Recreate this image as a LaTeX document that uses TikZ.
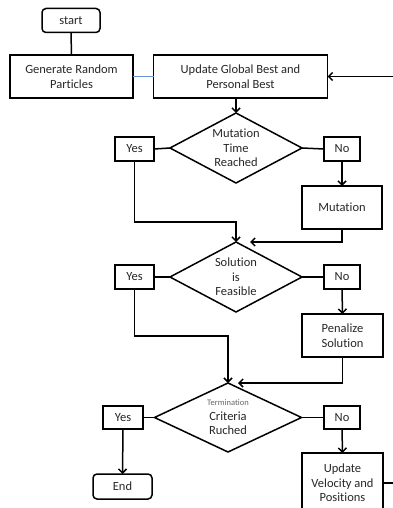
\documentclass[tikz,border=0pt]{standalone}
\usepackage{fontspec}
\setmainfont[Ligatures=NoCommon]{Carlito}
\usetikzlibrary{arrows.meta,shapes.geometric}
\begin{document}
\begin{tikzpicture}[x=1pt,y=-1pt,
  every node/.style={font=\fontsize{12.5}{14.5}\selectfont,text=black!85},
  box/.style={draw,line width=1.5pt,rectangle,inner sep=0pt,outer sep=0pt,align=center},
  term/.style={box,rounded corners=4pt},
  dia/.style={draw,line width=1.5pt,diamond,inner sep=0pt,outer sep=0pt},
  con/.style={line width=1.5pt},
  arr/.style={con,-{Straight Barb[length=4pt,width=8pt]}}]
\useasboundingbox (0,0) rectangle (393,508);
\node[term,minimum width=58pt,minimum height=24pt] (start) at (71,20.5) {start};
\node[box,minimum width=123pt,minimum height=43pt] (gen) at (71.5,76.5) {Generate Random\\Particles};
\node[box,minimum width=174pt,minimum height=43pt] (upd) at (240.5,76.5) {Update Global Best and\\Personal Best};
\node[dia,minimum width=132pt,minimum height=70pt] (d1) at (236,148) {};
\node[align=center] (t1) at (d1) {Mutation\\Time\\Reached};
\node[box,minimum width=39pt,minimum height=24pt] (y1) at (134.5,149) {Yes};
\node[box,minimum width=36pt,minimum height=24pt] (n1) at (342,149) {No};
\node[box,minimum width=80pt,minimum height=43pt] (mut) at (342,207.5) {Mutation};
\node[dia,minimum width=132pt,minimum height=70pt] (d2) at (236,277) {};
\node[align=center] (t2) at (d2) {Solution\\is\\Feasible};
\node[box,minimum width=39pt,minimum height=24pt] (y2) at (134.5,277) {Yes};
\node[box,minimum width=36pt,minimum height=24pt] (n2) at (342,277) {No};
\node[box,minimum width=81pt,minimum height=43pt] (pen) at (342.5,335.5) {Penalize\\Solution};
\node[dia,minimum width=147pt,minimum height=69pt] (d3) at (228,417.5) {};
\node[align=center] (t3) at (d3) {{\fontsize{8.5}{9.5}\selectfont\color{black!60}Termination}\\Criteria\\Ruched};
\node[box,minimum width=40pt,minimum height=23pt] (y3) at (123,417.5) {Yes};
\node[box,minimum width=36pt,minimum height=23pt] (n3) at (342,417.5) {No};
\node[term,minimum width=59pt,minimum height=25pt] (end) at (122.5,486.5) {End};
\node[box,minimum width=81pt,minimum height=60pt] (vel) at (342.5,483) {Update\\Velocity and\\Positions};
\coordinate (rin) at (393,76.5);
\coordinate (rout) at (393,483);
\coordinate (j1) at (236,222);
\coordinate (m1) at (250,242);
\coordinate (j2) at (228,336);
\coordinate (p1) at (238,383);
\draw[con] (start.south) -- (gen.north);
\draw[line width=0.8pt,color={rgb,255:red,100;green,150;blue,215}] (gen.east) -- (upd.west);
\draw[arr] (rin) -- (upd.east);
\draw[arr] (d1.north |- upd.south) -- (d1.north);
\draw[con] (y1.east) -- (d1.west);
\draw[con] (d1.east) -- (n1.west);
\draw[arr] (n1.south) -- (mut.north);
\draw[arr] (y1.south) |- (j1) -- (d2.north);
\draw[arr] (mut.south) |- (m1);
\draw[con] (y2.east) -- (d2.west);
\draw[con] (d2.east) -- (n2.west);
\draw[arr] (n2.south) -- (pen.north);
\draw[arr] (y2.south) |- (j2) -- (d3.north);
\draw[arr] (pen.south) |- (p1);
\draw[con] (y3.east) -- (d3.west);
\draw[con] (d3.east) -- (n3.west);
\draw[arr] (y3.south) -- (end.north);
\draw[arr] (n3.south) -- (vel.north);
\draw[con] (vel.east) -- (rout);
\end{tikzpicture}
\end{document}
